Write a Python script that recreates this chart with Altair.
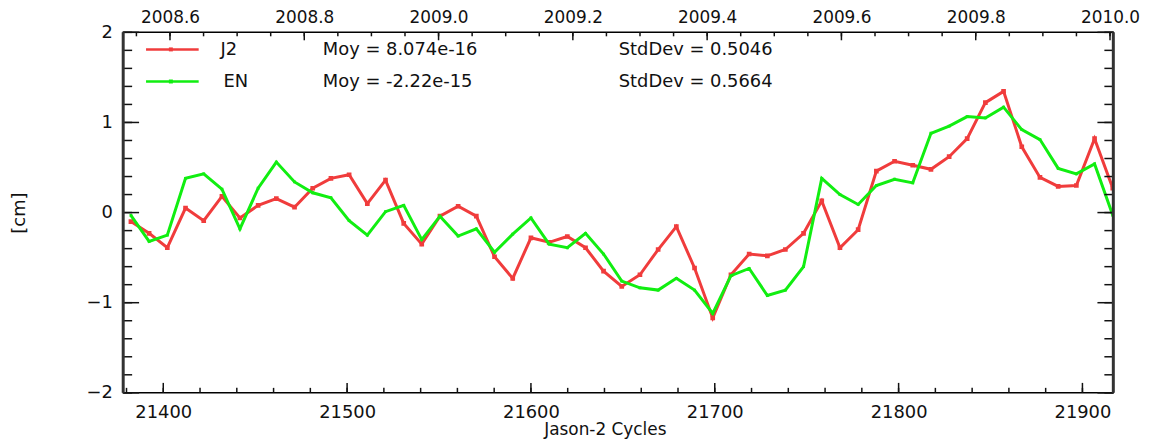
import altair as alt
import pandas as pd

# ---------------- data ----------------
cycles = [21382.4, 21392.3, 21402.2, 21412.1, 21422.0, 21431.9, 21441.7, 21451.6, 21461.5, 21471.4,
          21481.3, 21491.2, 21501.1, 21511.0, 21520.9, 21530.8, 21540.6, 21550.5, 21560.4, 21570.3,
          21580.2, 21590.1, 21600.0, 21609.9, 21619.8, 21629.7, 21639.5, 21649.4, 21659.3, 21669.2,
          21679.1, 21689.0, 21698.9, 21708.8, 21718.7, 21728.6, 21738.4, 21748.3, 21758.2, 21768.1,
          21778.0, 21787.9, 21797.8, 21807.7, 21817.6, 21827.5, 21837.3, 21847.2, 21857.1, 21867.0,
          21876.9, 21886.8, 21896.7, 21906.6, 21916.5]

j2 = [-0.10, -0.23, -0.39, 0.05, -0.09, 0.18, -0.06, 0.08, 0.155, 0.06,
      0.27, 0.38, 0.42, 0.10, 0.36, -0.12, -0.35, -0.04, 0.07, -0.04,
      -0.49, -0.73, -0.28, -0.33, -0.265, -0.39, -0.65, -0.82, -0.69, -0.41,
      -0.155, -0.615, -1.17, -0.69, -0.46, -0.48, -0.41, -0.23, 0.13, -0.39,
      -0.19, 0.46, 0.57, 0.525, 0.48, 0.62, 0.82, 1.22, 1.345, 0.73,
      0.39, 0.29, 0.30, 0.82, 0.27]

en = [-0.03, -0.32, -0.25, 0.38, 0.43, 0.26, -0.18, 0.27, 0.56, 0.34,
      0.22, 0.165, -0.09, -0.25, 0.01, 0.08, -0.30, -0.04, -0.26, -0.18,
      -0.44, -0.24, -0.06, -0.35, -0.39, -0.23, -0.46, -0.76, -0.835, -0.86,
      -0.73, -0.86, -1.12, -0.70, -0.62, -0.92, -0.86, -0.60, 0.38, 0.20,
      0.09, 0.30, 0.37, 0.33, 0.88, 0.96, 1.065, 1.05, 1.17, 0.92,
      0.81, 0.49, 0.43, 0.54, -0.03]

series_names = ["J2", "EN"]
series_colors = ["#f03c3c", "#11ee11"]
moy_labels = ["Moy = 8.074e-16", "Moy = -2.22e-15"]
std_labels = ["StdDev = 0.5046", "StdDev = 0.5664"]

x_major = [21400, 21500, 21600, 21700, 21800, 21900]
x_minor = [21380 + 20 * i for i in range(27)]
year_major = [2008.6, 2008.8, 2009.0, 2009.2, 2009.4, 2009.6, 2009.8, 2010.0]
year_minor = [round(2008.55 + 0.05 * i, 2) for i in range(30)]
y_major = [-2, -1, 0, 1, 2]
y_minor = [round(-2 + 0.2 * i, 1) for i in range(21)]

# ---------------- layout ----------------
X_DOMAIN = [21378.2, 21916.8]
Y_DOMAIN = [-2, 2]
YEAR_DOMAIN = [1950 + X_DOMAIN[0] / 365.25, 1950 + X_DOMAIN[1] / 365.25]
W, H = 997, 363
FONT = "DejaVu Sans"
FS = 18


def xs():
    return alt.Scale(domain=X_DOMAIN, nice=False, zero=False)


def ys():
    return alt.Scale(domain=Y_DOMAIN, nice=False, zero=False)


def years():
    return alt.Scale(domain=YEAR_DOMAIN, nice=False, zero=False)


values = {"J2": j2, "EN": en}
layers = []

# y axis (labels + title only)
layers.append(
    alt.Chart(pd.DataFrame({"v": y_major})).mark_point(opacity=0).encode(
        x=alt.value(0),
        y=alt.Y("v:Q", scale=ys(),
                axis=alt.Axis(orient="left", values=y_major, format="d", ticks=False, tickSize=0,
                              domain=False, grid=False, labelFontSize=FS, labelPadding=11,
                              labelColor="#111", labelFlush=False, labelOverlap=False,
                              title="[cm]", titleFontSize=FS, titleFontWeight="normal",
                              titleColor="#111", titleX=-104, titleY=H / 2,
                              titleBaseline="middle", titleAlign="center", titleAngle=270)))
)

# bottom x axis (labels + title only)
layers.append(
    alt.Chart(pd.DataFrame({"v": x_major})).mark_point(opacity=0).encode(
        y=alt.value(H),
        x=alt.X("v:Q", scale=xs(),
                axis=alt.Axis(orient="bottom", values=x_major, format="d", ticks=False, tickSize=0,
                              domain=False, grid=False, labelFontSize=FS, labelPadding=11,
                              labelFlush=False, labelOverlap=False, labelColor="#111",
                              title="Jason-2 Cycles", titleFontSize=17, titleFontWeight="normal",
                              titleColor="#111", titleX=485, titleY=37,
                              titleBaseline="middle", titleAlign="center")))
)

# top (year) axis
layers.append(
    alt.Chart(pd.DataFrame({"year": year_major})).mark_point(opacity=0).encode(
        x=alt.X("year:Q", scale=years(),
                axis=alt.Axis(orient="top", values=year_major, format=".1f", ticks=False, tickSize=0,
                              domain=False, grid=False, labelFontSize=17, labelPadding=6,
                              labelColor="#111", labelFlush=False, labelOverlap=False, title=None)),
        y=alt.value(0))
)

# main data lines (J2 below EN)
for i, name in enumerate(series_names):
    df = pd.DataFrame({"cycle": cycles, "value": values[name]})
    layers.append(alt.Chart(df).mark_line(color=series_colors[i], strokeWidth=3, clip=True).encode(
        x=alt.X("cycle:Q", scale=xs(), axis=None),
        y=alt.Y("value:Q", scale=ys(), axis=None)))
    layers.append(alt.Chart(df).mark_square(color=series_colors[i], size=22 if i == 0 else 8,
                                            opacity=1, clip=True).encode(
        x=alt.X("cycle:Q", scale=xs(), axis=None),
        y=alt.Y("value:Q", scale=ys(), axis=None)))

tick_style = dict(color="#111", strokeWidth=1.5)

# bottom ticks (inward)
for vals, ln in [(x_major, 10), (x_minor, 5)]:
    layers.append(alt.Chart(pd.DataFrame({"v": vals})).mark_rule(**tick_style).encode(
        x=alt.X("v:Q", scale=xs(), axis=None), y=alt.value(H), y2=alt.value(H - ln)))
# top ticks (inward)
for vals, ln in [(year_major, 8), (year_minor, 4)]:
    layers.append(alt.Chart(pd.DataFrame({"v": vals})).mark_rule(**tick_style).encode(
        x=alt.X("v:Q", scale=years(), axis=None), y=alt.value(0), y2=alt.value(ln)))
# left / right ticks (inward)
for vals, ln in [(y_major, 16), (y_minor, 9)]:
    layers.append(alt.Chart(pd.DataFrame({"v": vals})).mark_rule(**tick_style).encode(
        y=alt.Y("v:Q", scale=ys(), axis=None), x=alt.value(0), x2=alt.value(ln)))
    layers.append(alt.Chart(pd.DataFrame({"v": vals})).mark_rule(**tick_style).encode(
        y=alt.Y("v:Q", scale=ys(), axis=None), x=alt.value(W), x2=alt.value(W - ln)))

# thick left/right frame lines
for xv in [0, W]:
    layers.append(alt.Chart(pd.DataFrame({"v": [0]})).mark_rule(color="#333", strokeWidth=3).encode(
        x=alt.value(xv), y=alt.value(0), y2=alt.value(H)))

# legend (inside top-left)
row_y = [17.2, 49.5]
name_x = [98, 101]
for i, name in enumerate(series_names):
    one = pd.DataFrame({"name": [name], "moy": [moy_labels[i]], "std": [std_labels[i]]})
    layers.append(alt.Chart(one).mark_rule(color=series_colors[i], strokeWidth=2.5).encode(
        x=alt.value(23), x2=alt.value(76), y=alt.value(row_y[i])))
    layers.append(alt.Chart(one).mark_square(color=series_colors[i], size=16, opacity=1).encode(
        x=alt.value(48), y=alt.value(row_y[i])))
    for field, xv in [("name", name_x[i]), ("moy", 201), ("std", 499)]:
        layers.append(alt.Chart(one).mark_text(align="left", baseline="middle", font=FONT,
                                               fontSize=FS, color="#111").encode(
            x=alt.value(xv), y=alt.value(row_y[i] + 0.6), text=f"{field}:N"))

chart = alt.layer(*layers).resolve_scale(x="independent", y="independent").properties(
    width=W, height=H,
    autosize="none",
    padding={"left": 116, "top": 23, "right": 46, "bottom": 46},
).configure_view(stroke="#000", strokeWidth=1.5).configure_axis(
    labelFont=FONT, titleFont=FONT
)

chart.save("out.html", embed_options={"renderer": "svg", "actions": False})
